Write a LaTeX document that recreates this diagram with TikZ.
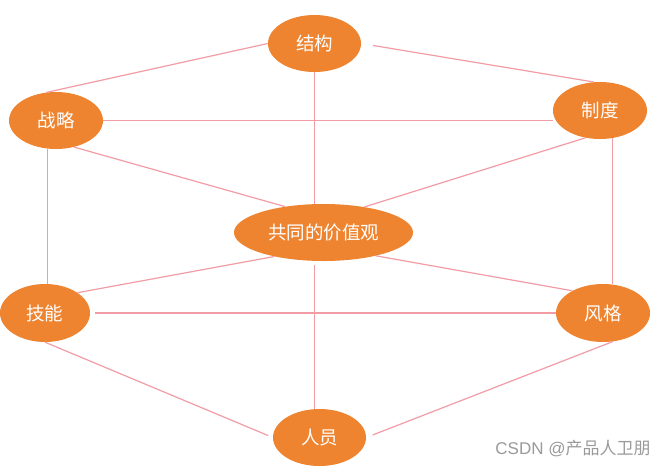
\documentclass[tikz,border=0pt]{standalone}
\usepackage{fontspec}
\newfontfamily\cjk{Noto Sans CJK SC}
\newfontfamily\lat{Liberation Sans}
\usetikzlibrary{shapes.geometric}
\definecolor{nodeorange}{HTML}{EE8430}
\definecolor{linkpink}{HTML}{F29CA6}
\definecolor{markgray}{HTML}{9A9A9A}
\tikzset{
  oval/.style={ellipse, fill=nodeorange, draw=none, inner sep=0pt,
    minimum width=94pt, minimum height=57pt, text=white,
    font=\cjk\fontsize{18.5}{18.5}\selectfont},
  link/.style={draw=linkpink, line width=1.2pt}
}
\begin{document}
\begin{tikzpicture}[x=1pt,y=-1pt]
\useasboundingbox (0,0) rectangle (672,469);
\fill[white] (0,0) rectangle (672,469);
\node[oval, minimum width=93pt] (jg) at (314.5,43.5) {结构};
\node[oval] (zl) at (56,120.5) {战略};
\node[oval] (zd) at (600,110.5) {制度};
\node[oval, minimum width=179pt] (gt) at (323.5,232.5) {共同的价值观};
\node[oval, minimum width=90pt, minimum height=58pt] (jn) at (45,313) {技能};
\node[oval, minimum height=58pt] (fg) at (603,313) {风格};
\node[oval, minimum width=93pt] (ry) at (319.5,437.5) {人员};
\node[text=markgray, inner sep=0pt] (wm) at (573,449) {\lat\fontsize{17}{17}\selectfont CSDN @\cjk 产品人卫朋};
\draw[link] (jg.west) -- (zl.109);
\draw[link, shorten <=12pt] (jg.east) -- (zd.102);
\draw[link] (zl.east) -- (zl.east -| zd.west);
\draw[link] (jg.south) -- (jg.south |- gt.north);
\draw[link] (zl.-56) -- (gt.146);
\draw[link] (zd.-118) -- (gt.32);
\draw[link] (zl.-107) -- (zl.-107 |- jn.north);
\draw[link] (zd.-65) -- (zd.-65 |- fg.north);
\draw[link] (gt.-154) -- (jn.32);
\draw[link, shorten <=4pt] (jg.south |- gt.south) -- (jg.south |- ry.north);
\draw[link, shorten <=5pt] (jn.east) -- (fg.west);
\draw[link] (gt.-24) -- (fg.144);
\draw[link, shorten >=5pt] (jn.south) -- (ry.west);
\draw[link, shorten >=7pt] (fg.-71) -- (ry.east);
\end{tikzpicture}
\end{document}
